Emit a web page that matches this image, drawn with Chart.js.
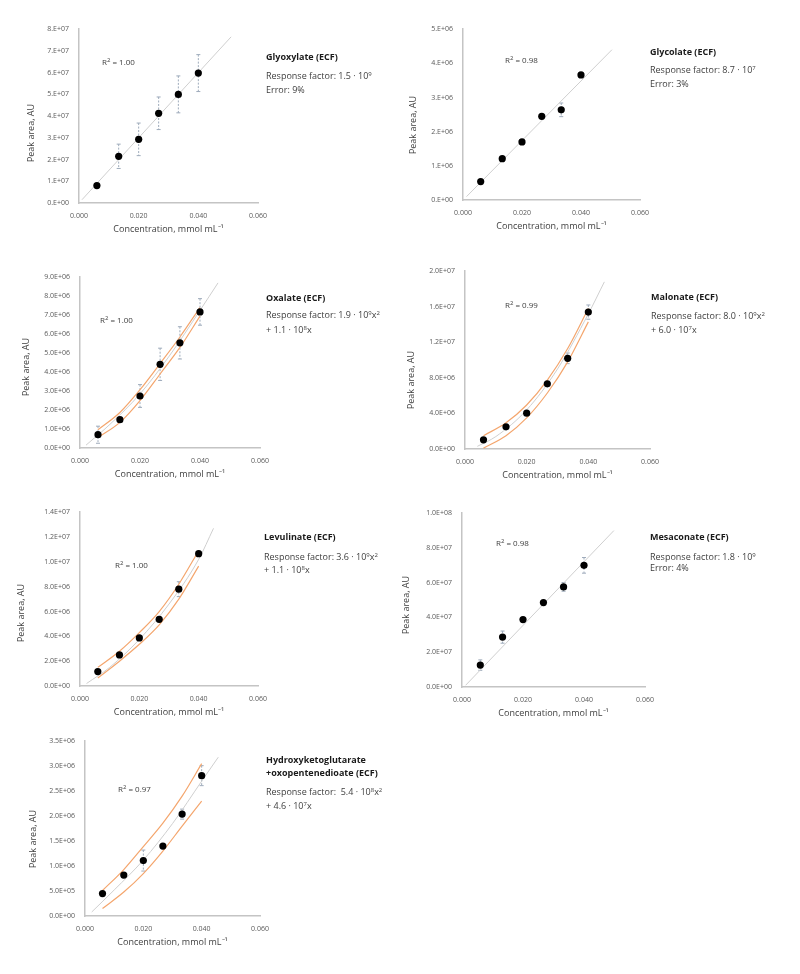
<!DOCTYPE html>
<html>
<head>
<meta charset="utf-8">
<script src="https://cdn.jsdelivr.net/npm/chart.js@4.4.1/dist/chart.umd.min.js"></script>
<style>
  body { margin: 0; background: #fff; width: 800px; height: 974px; position: relative; overflow: hidden; font-family: "Open Sans", sans-serif; }
  canvas { position: absolute; }
  .t { position: absolute; white-space: nowrap; font-size: 9px; line-height: 12px; color: #404040; }
  .name { font-weight: bold; color: #1a1a1a; }
  .r2 { font-size: 8px; }
  .yt { position: absolute; white-space: nowrap; font-size: 9px; color: #404040; transform: translate(-50%, -50%) rotate(-90deg); }
  sup { font-size: 6px; vertical-align: 3px; line-height: 0; }
</style>
</head>
<body>
<script>
// concentrations (mmol mL-1), same for every panel
const conc = [0.006, 0.0133, 0.020, 0.0267, 0.0333, 0.040];

// Glyoxylate
const glyoxylateArea = [0.80e7, 2.15e7, 2.93e7, 4.13e7, 5.00e7, 5.98e7];
const glyoxylateErr = [0, 0.56e7, 0.75e7, 0.75e7, 0.85e7, 0.85e7];
const glyoxylateFitX = [0.001, 0.051];
const glyoxylateFitY = [0.15e7, 7.65e7];

// Glycolate
const glycolateArea = [0.54e6, 1.21e6, 1.70e6, 2.45e6, 2.64e6, 3.66e6];
const glycolateErr = [0, 0, 0, 0, 0.2e6, 0.06e6];
const glycolateFitX = [0.0012, 0.0505];
const glycolateFitY = [0.1e6, 4.4e6];

// Oxalate
const oxalateArea = [0.70e6, 1.49e6, 2.74e6, 4.41e6, 5.54e6, 7.17e6];
const oxalateErr = [0.45e6, 0.1e6, 0.6e6, 0.85e6, 0.85e6, 0.7e6];
const oxalateFitX = [0.002, 0.01, 0.02, 0.03, 0.04, 0.046];
const oxalateFitY = [0.15e6, 1.25e6, 2.85e6, 4.9e6, 7.25e6, 8.7e6];
const oxalateUpper = [0.96e6, 1.87e6, 3.07e6, 4.45e6, 5.85e6, 7.4e6];
const oxalateLower = [0.55e6, 1.35e6, 2.5e6, 3.9e6, 5.3e6, 6.95e6];

// Malonate
const malonateArea = [1.03e6, 2.49e6, 4.03e6, 7.33e6, 10.2e6, 15.4e6];
const malonateErr = [0, 0, 0, 0, 0.6e6, 0.8e6];
const malonateFitX = [0.004, 0.01, 0.02, 0.03, 0.04, 0.0452];
const malonateFitY = [0.3e6, 1.4e6, 4.4e6, 9.0e6, 15.2e6, 18.8e6];
const malonateUpper = [1.5e6, 2.95e6, 4.95e6, 7.75e6, 11.3e6, 15.8e6];
const malonateLower = [0.1e6, 1.5e6, 3.5e6, 6.3e6, 9.8e6, 14.3e6];

// Levulinate
const levulinateArea = [1.16e6, 2.5e6, 3.87e6, 5.37e6, 7.8e6, 10.66e6];
const levulinateErr = [0, 0, 0, 0, 0.6e6, 0];
const levulinateFitX = [0.0022, 0.01, 0.02, 0.03, 0.04, 0.045];
const levulinateFitY = [0.2e6, 1.5e6, 3.75e6, 6.6e6, 10.2e6, 12.7e6];
const levulinateUpper = [1.5e6, 2.8e6, 4.3e6, 6.0e6, 8.2e6, 10.9e6];
const levulinateLower = [0.65e6, 2.0e6, 3.36e6, 4.93e6, 7.0e6, 9.66e6];

// Mesaconate
const mesaconateArea = [1.26e7, 2.87e7, 3.88e7, 4.86e7, 5.76e7, 7.0e7];
const mesaconateErr = [0.3e7, 0.35e7, 0, 0, 0.25e7, 0.45e7];
const mesaconateFitX = [0.0012, 0.0498];
const mesaconateFitY = [0.1e7, 9.0e7];

// Hydroxyketoglutarate + oxopentenedioate
const hydroxyArea = [0.45e6, 0.82e6, 1.11e6, 1.40e6, 2.04e6, 2.81e6];
const hydroxyErr = [0, 0, 0.21e6, 0, 0.1e6, 0.2e6];
const hydroxyFitX = [0.0023, 0.01, 0.02, 0.03, 0.04, 0.0457];
const hydroxyFitY = [0.08e6, 0.52e6, 1.12e6, 1.85e6, 2.7e6, 3.18e6];
const hydroxyUpper = [0.51e6, 0.93e6, 1.39e6, 1.86e6, 2.4e6, 3.05e6];
const hydroxyLower = [0.15e6, 0.48e6, 0.85e6, 1.3e6, 1.8e6, 2.3e6];

Chart.defaults.font.family = '"Open Sans", sans-serif';

const zip = (xs, ys) => xs.map((x, i) => ({ x: x, y: ys[i] }));

// "1.E+07" / "1.0E+06" style labels like the spreadsheet
function sci(v, digits) {
  const parts = Number(v).toExponential(digits).split("e");
  let m = parts[0];
  if (digits === 0) m += ".";
  const e = parseInt(parts[1], 10);
  const sign = e < 0 ? "-" : "+";
  return m + "E" + sign + String(Math.abs(e)).padStart(2, "0");
}

const errorBars = {
  id: "errorBars",
  beforeDatasetsDraw(chart) {
    const ds = chart.data.datasets[0];
    if (!ds.err) return;
    const xs = chart.scales.x, ys = chart.scales.y, ctx = chart.ctx;
    ctx.save();
    ctx.strokeStyle = "#9eabbb";
    ctx.lineWidth = 1;
    ds.err.forEach((e, i) => {
      if (!e) return;
      const px = xs.getPixelForValue(ds.data[i].x);
      const top = ys.getPixelForValue(ds.data[i].y + e);
      const bot = ys.getPixelForValue(ds.data[i].y - e);
      ctx.setLineDash([2, 1.5]);
      ctx.beginPath();
      ctx.moveTo(px, top); ctx.lineTo(px, bot);
      ctx.stroke();
      ctx.setLineDash([]);
      ctx.beginPath();
      ctx.moveTo(px - 2, top); ctx.lineTo(px + 2, top);
      ctx.moveTo(px - 2, bot); ctx.lineTo(px + 2, bot);
      ctx.stroke();
    });
    ctx.restore();
  }
};

function makePanel(p) {
  const yw = 62, xh = 32;
  const L = p.x0 - yw, T = p.y0 - 10, R = p.x1 + 22, B = p.y1 + xh;
  const canvas = document.createElement("canvas");
  canvas.width = R - L;
  canvas.height = B - T;
  canvas.style.left = L + "px";
  canvas.style.top = T + "px";
  document.body.appendChild(canvas);

  const datasets = [
    { data: zip(conc, p.area), err: p.err, showLine: false, pointRadius: 3.6, pointHoverRadius: 3.6,
      pointBorderWidth: 0, backgroundColor: "#000", borderColor: "#000" },
    { data: zip(p.fitX, p.fitY), showLine: true, pointRadius: 0, borderColor: "#cfcfcf", borderWidth: 1,
      cubicInterpolationMode: "monotone" }
  ];
  if (p.upper) {
    datasets.push({ data: zip(conc, p.upper), showLine: true, pointRadius: 0, borderColor: "#f4a66e",
      borderWidth: 1.2, cubicInterpolationMode: "monotone" });
    datasets.push({ data: zip(conc, p.lower), showLine: true, pointRadius: 0, borderColor: "#f4a66e",
      borderWidth: 1.2, cubicInterpolationMode: "monotone" });
  }

  new Chart(canvas, {
    type: "scatter",
    data: { datasets: datasets },
    options: {
      responsive: false,
      animation: false,
      layout: { padding: { top: 10, right: 22, bottom: 0, left: 0 } },
      plugins: { legend: { display: false }, tooltip: { enabled: false } },
      scales: {
        x: {
          type: "linear", min: 0, max: 0.06,
          grid: { display: false, drawTicks: false },
          border: { color: "#c4c4c4", width: 1.5 },
          ticks: { stepSize: 0.02, padding: 9, color: "#595959", font: { size: 7 }, maxRotation: 0,
                   callback: v => v.toFixed(3) },
          title: { display: true, text: "Concentration, mmol mL\u207B\u00B9", color: "#404040",
                   font: { size: 9 }, padding: 0 },
          afterFit: s => { s.height = xh; }
        },
        y: {
          type: "linear", min: 0, max: p.yMax,
          grid: { display: false, drawTicks: false },
          border: { color: "#c4c4c4", width: 1.5 },
          ticks: { stepSize: p.yStep, padding: 10, color: "#595959", font: { size: 7 },
                   callback: v => sci(v, p.digits) },
          afterFit: s => { s.width = yw; }
        }
      }
    },
    plugins: [errorBars]
  });
}

const panels = [
  { x0: 79, x1: 258, y0: 25, y1: 203, yMax: 8e7, yStep: 1e7, digits: 0,
    area: glyoxylateArea, err: glyoxylateErr, fitX: glyoxylateFitX, fitY: glyoxylateFitY },
  { x0: 463, x1: 640, y0: 25, y1: 200, yMax: 5e6, yStep: 1e6, digits: 0,
    area: glycolateArea, err: glycolateErr, fitX: glycolateFitX, fitY: glycolateFitY },
  { x0: 80, x1: 260, y0: 273, y1: 448, yMax: 9e6, yStep: 1e6, digits: 1,
    area: oxalateArea, err: oxalateErr, fitX: oxalateFitX, fitY: oxalateFitY, upper: oxalateUpper, lower: oxalateLower },
  { x0: 465, x1: 650, y0: 267, y1: 449, yMax: 2e7, yStep: 4e6, digits: 1,
    area: malonateArea, err: malonateErr, fitX: malonateFitX, fitY: malonateFitY, upper: malonateUpper, lower: malonateLower },
  { x0: 80, x1: 258, y0: 508, y1: 686, yMax: 1.4e7, yStep: 2e6, digits: 1,
    area: levulinateArea, err: levulinateErr, fitX: levulinateFitX, fitY: levulinateFitY, upper: levulinateUpper, lower: levulinateLower },
  { x0: 462, x1: 645, y0: 509, y1: 687, yMax: 1e8, yStep: 2e7, digits: 1,
    area: mesaconateArea, err: mesaconateErr, fitX: mesaconateFitX, fitY: mesaconateFitY },
  { x0: 85, x1: 260, y0: 737, y1: 916, yMax: 3.5e6, yStep: 5e5, digits: 1,
    area: hydroxyArea, err: hydroxyErr, fitX: hydroxyFitX, fitY: hydroxyFitY, upper: hydroxyUpper, lower: hydroxyLower }
];

panels.forEach(makePanel);
</script>

<div class="yt" style="left:30px;top:133px">Peak area, AU</div>
<div class="yt" style="left:412px;top:125px">Peak area, AU</div>
<div class="yt" style="left:25px;top:367px">Peak area, AU</div>
<div class="yt" style="left:410px;top:380px">Peak area, AU</div>
<div class="yt" style="left:20px;top:613px">Peak area, AU</div>
<div class="yt" style="left:405px;top:605px">Peak area, AU</div>
<div class="yt" style="left:32px;top:839px">Peak area, AU</div>

<div class="t r2" style="left:102px;top:56px">R<sup>2</sup> = 1.00</div>
<div class="t name" style="left:266px;top:51px">Glyoxylate (ECF)</div>
<div class="t" style="left:266px;top:70px">Response factor: 1.5 · 10<sup>9</sup></div>
<div class="t" style="left:266px;top:84px">Error: 9%</div>

<div class="t r2" style="left:505px;top:54px">R<sup>2</sup> = 0.98</div>
<div class="t name" style="left:650px;top:46px">Glycolate (ECF)</div>
<div class="t" style="left:650px;top:64px">Response factor: 8.7 · 10<sup>7</sup></div>
<div class="t" style="left:650px;top:78px">Error: 3%</div>

<div class="t r2" style="left:100px;top:314px">R<sup>2</sup> = 1.00</div>
<div class="t name" style="left:266px;top:292px">Oxalate (ECF)</div>
<div class="t" style="left:266px;top:309px">Response factor: 1.9 · 10<sup>9</sup>x<sup>2</sup></div>
<div class="t" style="left:266px;top:324px">+ 1.1 · 10<sup>8</sup>x</div>

<div class="t r2" style="left:505px;top:299px">R<sup>2</sup> = 0.99</div>
<div class="t name" style="left:651px;top:291px">Malonate (ECF)</div>
<div class="t" style="left:651px;top:310px">Response factor: 8.0 · 10<sup>9</sup>x<sup>2</sup></div>
<div class="t" style="left:651px;top:324px">+ 6.0 · 10<sup>7</sup>x</div>

<div class="t r2" style="left:115px;top:559px">R<sup>2</sup> = 1.00</div>
<div class="t name" style="left:264px;top:531px">Levulinate (ECF)</div>
<div class="t" style="left:264px;top:551px">Response factor: 3.6 · 10<sup>9</sup>x<sup>2</sup></div>
<div class="t" style="left:264px;top:564px">+ 1.1 · 10<sup>8</sup>x</div>

<div class="t r2" style="left:496px;top:537px">R<sup>2</sup> = 0.98</div>
<div class="t name" style="left:650px;top:531px">Mesaconate (ECF)</div>
<div class="t" style="left:650px;top:551px">Response factor: 1.8 · 10<sup>9</sup></div>
<div class="t" style="left:650px;top:562px">Error: 4%</div>

<div class="t r2" style="left:118px;top:783px">R<sup>2</sup> = 0.97</div>
<div class="t name" style="left:266px;top:754px">Hydroxyketoglutarate</div>
<div class="t name" style="left:266px;top:767px">+oxopentenedioate (ECF)</div>
<div class="t" style="left:266px;top:786px">Response factor:&nbsp; 5.4 · 10<sup>8</sup>x<sup>2</sup></div>
<div class="t" style="left:266px;top:800px">+ 4.6 · 10<sup>7</sup>x</div>
</body>
</html>
